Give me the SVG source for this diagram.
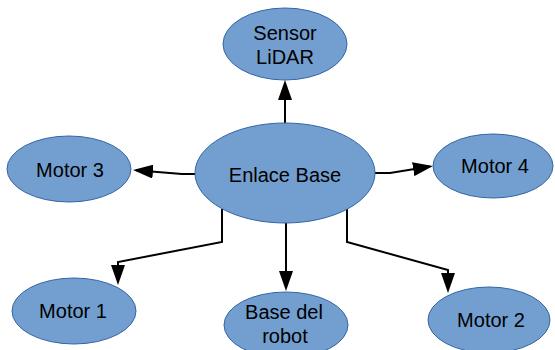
<svg xmlns="http://www.w3.org/2000/svg" width="555" height="350" viewBox="0 0 555 350">
<style>
.node ellipse{fill:#729fcf;stroke:#3465a4;stroke-width:1}
.node text{font-family:"Liberation Sans",Arial,sans-serif;font-size:20px;fill:#000;text-anchor:middle}
.edge{fill:none;stroke:#000;stroke-width:2;marker-end:url(#arr)}
</style>
<defs>
<marker id="arr" markerUnits="userSpaceOnUse" markerWidth="20" markerHeight="14" refX="17" refY="7" orient="auto">
<path d="M0,0 L20,7 L0,14 z" fill="#000"/>
</marker>
</defs>
<g id="connectors">
<path class="edge" d="M285,123 L285,83"/>
<path class="edge" d="M195,174 L182,174 L136,170.2"/>
<path class="edge" d="M375,173 L390,173 L430,166.5"/>
<path class="edge" d="M222,209 L222,242 L118,262 L118,282"/>
<path class="edge" d="M286,223 L286,288"/>
<path class="edge" d="M347,209 L347,242 L448,270 L448,290"/>
</g>
<g id="lidar" class="node"><ellipse cx="285" cy="44" rx="62" ry="36"/><text x="285" y="40">Sensor</text><text x="285" y="64">LiDAR</text></g>
<g id="enlace" class="node"><ellipse cx="285" cy="173" rx="90" ry="50"/><text x="285" y="182">Enlace Base</text></g>
<g id="motor3" class="node"><ellipse cx="69" cy="169" rx="62" ry="33"/><text x="70" y="177">Motor 3</text></g>
<g id="motor4" class="node"><ellipse cx="493" cy="166" rx="60" ry="32"/><text x="495" y="173">Motor 4</text></g>
<g id="motor1" class="node"><ellipse cx="74" cy="311" rx="62" ry="33"/><text x="73" y="318">Motor 1</text></g>
<g id="base" class="node"><ellipse cx="286" cy="325" rx="62" ry="33"/><text x="284" y="319">Base del</text><text x="285" y="343">robot</text></g>
<g id="motor2" class="node"><ellipse cx="489" cy="320" rx="61" ry="33"/><text x="491" y="327">Motor 2</text></g>
</svg>
